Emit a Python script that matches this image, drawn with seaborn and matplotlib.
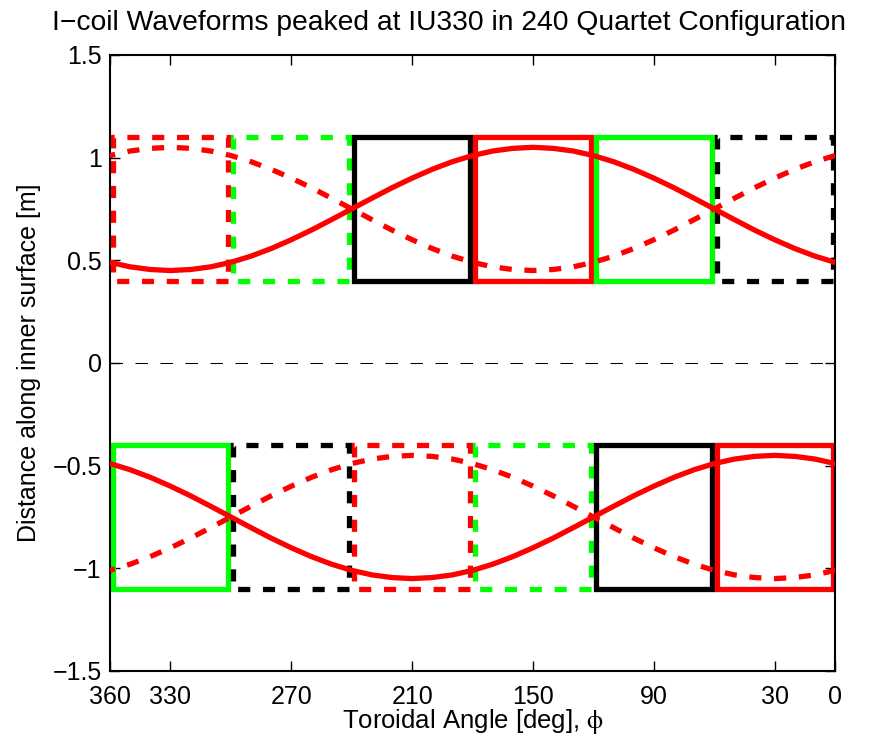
import matplotlib
matplotlib.use("Agg")
import matplotlib.pyplot as plt
import seaborn as sns
import pandas as pd
from matplotlib.patches import Rectangle

# ---- data ----
phi = list(range(0, 361, 10))
upper_solid = [0.49, 0.52, 0.557, 0.60, 0.647, 0.698, 0.75, 0.802, 0.853, 0.90,
               0.943, 0.98, 1.01, 1.032, 1.045, 1.05, 1.045, 1.032, 1.01, 0.98,
               0.943, 0.90, 0.853, 0.802, 0.75, 0.698, 0.647, 0.60, 0.557, 0.52,
               0.49, 0.468, 0.455, 0.45, 0.455, 0.468, 0.49]
upper_dashed = [1.01, 0.98, 0.943, 0.90, 0.853, 0.802, 0.75, 0.698, 0.647, 0.60,
                0.557, 0.52, 0.49, 0.468, 0.455, 0.45, 0.455, 0.468, 0.49, 0.52,
                0.557, 0.60, 0.647, 0.698, 0.75, 0.802, 0.853, 0.90, 0.943, 0.98,
                1.01, 1.032, 1.045, 1.05, 1.045, 1.032, 1.01]
lower_solid = [-0.49, -0.468, -0.455, -0.45, -0.455, -0.468, -0.49, -0.52, -0.557, -0.60,
               -0.647, -0.698, -0.75, -0.802, -0.853, -0.90, -0.943, -0.98, -1.01, -1.032,
               -1.045, -1.05, -1.045, -1.032, -1.01, -0.98, -0.943, -0.90, -0.853, -0.802,
               -0.75, -0.698, -0.647, -0.60, -0.557, -0.52, -0.49]
lower_dashed = [-1.01, -1.032, -1.045, -1.05, -1.045, -1.032, -1.01, -0.98, -0.943, -0.90,
                -0.853, -0.802, -0.75, -0.698, -0.647, -0.60, -0.557, -0.52, -0.49, -0.468,
                -0.455, -0.45, -0.455, -0.468, -0.49, -0.52, -0.557, -0.60, -0.647, -0.698,
                -0.75, -0.802, -0.853, -0.90, -0.943, -0.98, -1.01]

# coil sectors (start angle of each 60-degree sector)
sector_start = [300, 240, 180, 120, 60, 0]
upper_colors = ["red", "green", "black", "red", "green", "black"]
upper_styles = ["dashed", "dashed", "solid", "solid", "solid", "dashed"]
lower_colors = ["green", "black", "red", "green", "black", "red"]
lower_styles = ["solid", "dashed", "dashed", "dashed", "solid", "solid"]
upper_range = (0.4, 1.1)
lower_range = (-1.1, -0.4)

x_ticks = [360, 330, 270, 210, 150, 90, 30, 0]
y_ticks = [-1.5, -1, -0.5, 0, 0.5, 1, 1.5]

# ---- style ----
sns.set_theme(style="white")
plt.rcParams["font.family"] = ["Liberation Sans", "DejaVu Sans"]
plt.rcParams["mathtext.fontset"] = "stix"
plt.rcParams["text.color"] = "black"
plt.rcParams["axes.labelcolor"] = "black"

RED = (1.0, 0.0, 0.0)
GREEN = (0.0, 1.0, 0.0)
BLACK = (0.0, 0.0, 0.0)
cmap = {"red": RED, "green": GREEN, "black": BLACK}

fig = plt.figure(figsize=(8.8, 7.42), dpi=100)
ax = fig.add_axes([0.125, 0.0957, 0.824, 0.8303])

LW = 3.8
DASH = (2.3, 2.4)
INSET = 1.25

def draw_rects(colors, styles, yr):
    for s, c, st in zip(sector_start, colors, styles):
        r = Rectangle((s + INSET, yr[0]), 60 - 2 * INSET, yr[1] - yr[0], fill=False,
                      edgecolor=cmap[c], linewidth=LW, zorder=2,
                      joinstyle="miter")
        if st == "dashed":
            r.set_linestyle((0, DASH))
        ax.add_patch(r)

draw_rects(upper_colors, upper_styles, upper_range)
draw_rects(lower_colors, lower_styles, lower_range)

# zero line
ax.axhline(0, color=BLACK, linewidth=0.75, dashes=(12, 12), zorder=1)

df = pd.DataFrame({"phi": phi, "us": upper_solid, "ud": upper_dashed,
                   "ls": lower_solid, "ld": lower_dashed})
for col, dashed in [("us", False), ("ud", True), ("ls", False), ("ld", True)]:
    kw = dict(dashes=DASH) if dashed else {}
    sns.lineplot(data=df, x="phi", y=col, ax=ax, color=RED, linewidth=LW,
                 sort=False, zorder=3, **kw)

ax.set_xlim(360, 0)
ax.set_ylim(-1.5, 1.5)
ax.set_xticks(x_ticks)
ax.set_xticklabels([str(t) for t in x_ticks])
ax.set_yticks(y_ticks)
ax.set_yticklabels(["\u22121.5", "\u22121", "\u22120.5", "0", "0.5", "1", "1.5"])

for sp in ax.spines.values():
    sp.set_visible(True)
    sp.set_color("black")
    sp.set_linewidth(1.5)

ax.tick_params(direction="in", length=7, width=1, top=True, right=True,
               bottom=True, left=True, labelsize=18, colors="black", pad=6)
ax.tick_params(axis="x", pad=10)

ax.set_title("I\u2212coil Waveforms peaked at IU330 in 240 Quartet Configuration",
             fontsize=20.3, pad=18, x=0.4676)
ax.set_xlabel("Toroidal Angle [deg], $\\mathrm{\\phi}$", fontsize=18.5, labelpad=-1)
ax.set_ylabel("Distance along inner surface [m]", fontsize=18, labelpad=8)

fig.savefig("out.png", dpi=100)
